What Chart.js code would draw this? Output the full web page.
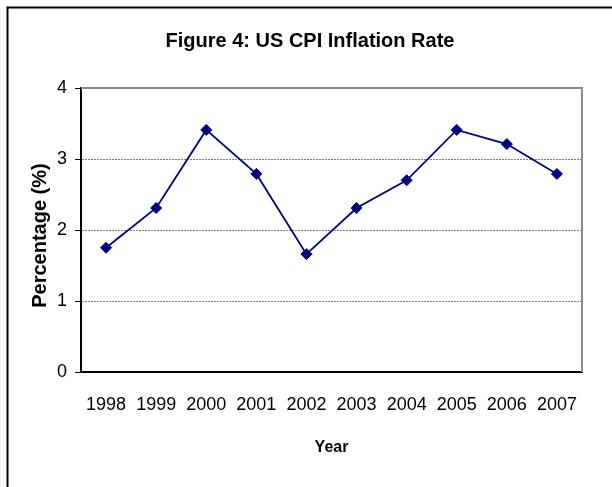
<!DOCTYPE html>
<html>
<head>
<meta charset="utf-8">
<script src="https://cdn.jsdelivr.net/npm/chart.js@4.4.0/dist/chart.umd.min.js"></script>
<style>
  html, body { margin: 0; padding: 0; background: #fff; }
  canvas { display: block; }
</style>
</head>
<body>
<canvas id="cpiChart" width="612" height="487"></canvas>
<script>
// Chart data
const years = ["1998", "1999", "2000", "2001", "2002", "2003", "2004", "2005", "2006", "2007"];
const inflationRates = [1.75, 2.31, 3.41, 2.79, 1.66, 2.31, 2.70, 3.41, 3.21, 2.79];
const yTicks = [0, 1, 2, 3, 4];

const FONT = "'Liberation Sans Narrow', 'Arial Narrow', 'Liberation Sans', Arial, sans-serif";

// Outer frame + grey plot border (top and right)
const framePlugin = {
  id: "frame",
  beforeDraw(chart) {
    const ctx = chart.ctx;
    ctx.save();
    ctx.fillStyle = "#ffffff";
    ctx.fillRect(0, 0, chart.width, chart.height);
    ctx.strokeStyle = "#000000";
    ctx.lineWidth = 2;
    ctx.beginPath();
    ctx.moveTo(7.5, chart.height + 2);
    ctx.lineTo(7.5, 7.5);
    ctx.lineTo(chart.width + 2, 7.5);
    ctx.stroke();
    ctx.restore();
  },
  beforeDatasetsDraw(chart) {
    const { ctx, chartArea } = chart;
    ctx.save();
    ctx.strokeStyle = "#8c8c8c";
    ctx.lineWidth = 2;
    ctx.beginPath();
    ctx.moveTo(chartArea.left, chartArea.top);
    ctx.lineTo(chartArea.right, chartArea.top);
    ctx.lineTo(chartArea.right, chartArea.bottom);
    ctx.stroke();
    ctx.restore();
  }
};

new Chart(document.getElementById("cpiChart"), {
  type: "line",
  data: {
    labels: years,
    datasets: [
      {
        label: "US CPI Inflation Rate",
        data: inflationRates,
        borderColor: "#000080",
        backgroundColor: "#000080",
        borderWidth: 1.8,
        pointStyle: "rectRot",
        pointRadius: 5.5,
        pointBorderWidth: 1,
        pointBackgroundColor: "#000080",
        pointBorderColor: "#000080",
        tension: 0,
        fill: false,
      },
    ],
  },
  options: {
    responsive: false,
    animation: false,
    layout: { padding: { left: 38, right: 30, top: 0, bottom: 0 } },
    plugins: {
      legend: { display: false },
      tooltip: { enabled: false },
      title: {
        display: true,
        text: "Figure 4: US CPI Inflation Rate",
        color: "#000",
        font: { family: FONT, size: 20, weight: "bold" },
        padding: { top: 29, bottom: 35 },
      },
    },
    scales: {
      x: {
        offset: true,
        afterFit: (scale) => { scale.height = 115; },
        grid: { display: false, drawTicks: false },
        border: { display: true, color: "#000", width: 2 },
        ticks: { color: "#000", padding: 22, maxRotation: 0, font: { family: FONT, size: 18 } },
        title: {
          display: true,
          text: "Year",
          color: "#000",
          font: { family: FONT, size: 16, weight: "bold" },
          padding: { top: 0, bottom: 30 },
        },
      },
      y: {
        min: 0,
        max: 4,
        afterFit: (scale) => { scale.width = 43; },
        afterBuildTicks: (scale) => { scale.ticks = yTicks.map((v) => ({ value: v })); },
        grid: {
          color: "#808080",
          lineWidth: 1,
          drawTicks: true,
          tickLength: 6,
          tickColor: "#000",
          tickBorderDash: [],
        },
        border: { display: true, color: "#000", width: 2, dash: [2, 1] },
        ticks: { color: "#000", padding: 8, font: { family: FONT, size: 18 } },
        title: {
          display: true,
          text: "Percentage (%)  ",
          color: "#000",
          font: { family: FONT, size: 20, weight: "bold" },
          padding: { top: -10, bottom: 0 },
        },
      },
    },
  },
  plugins: [framePlugin],
});
</script>
</body>
</html>
